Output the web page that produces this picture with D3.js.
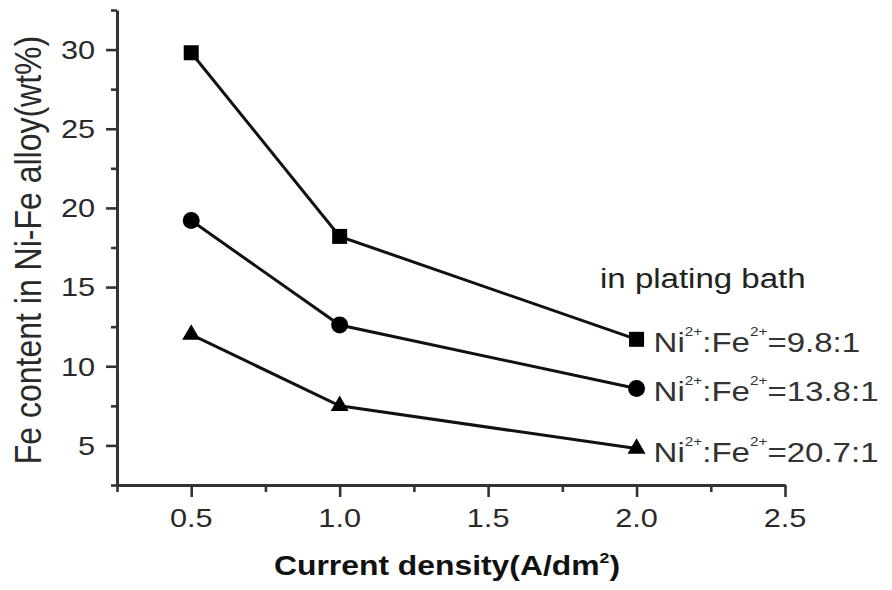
<!DOCTYPE html>
<html>
<head>
<meta charset="utf-8">
<script src="https://cdn.jsdelivr.net/npm/d3@7"></script>
<style>
  html, body { margin: 0; padding: 0; background: #fff; }
  svg { display: block; font-family: "Liberation Sans", Arial, sans-serif; }
</style>
</head>
<body>
<svg id="chart" width="892" height="590"></svg>
<script>
// Current density (A/dm^2) at which each alloy was deposited
const currentDensity = [0.5, 1.0, 2.0];
// Fe content in the Ni-Fe alloy (wt%) for each Ni2+:Fe2+ bath ratio
const feRatio98 = [29.8, 18.2, 11.7];
const feRatio138 = [19.2, 12.6, 8.6];
const feRatio207 = [12.0, 7.5, 4.8];
const seriesRatios = ["9.8:1", "13.8:1", "20.7:1"];
const seriesSymbols = [d3.symbolSquare, d3.symbolCircle, d3.symbolTriangle];
const seriesSizes = [225, 227, 140];

const xTicks = [0.5, 1.0, 1.5, 2.0, 2.5];
const xMinorTicks = [0.25, 0.75, 1.25, 1.75, 2.25];
const yTicks = [5, 10, 15, 20, 25, 30];
const yMinorTicks = [2.5, 7.5, 12.5, 17.5, 22.5, 27.5, 32.5];

const series = [feRatio98, feRatio138, feRatio207].map((vals, i) => ({
  ratio: seriesRatios[i],
  symbol: seriesSymbols[i],
  size: seriesSizes[i],
  points: currentDensity.map((x, j) => ({ x, y: vals[j] }))
}));

const svg = d3.select("#chart");
const SX = 1.18; // horizontal stretch of the lettering
const axisColor = "#333";
const textColor = "#2a2a2a";

const x = d3.scaleLinear().domain([0.25, 2.5]).range([117, 785]);
const y = d3.scaleLinear().domain([2.5, 32.5]).range([485, 10]);

// stretched text helper
function label(parent, px, py, opts = {}) {
  const g = parent.append("g")
    .attr("transform", `translate(${px},${py}) scale(${SX},1)` + (opts.rotate ? ` rotate(${opts.rotate})` : ""));
  const t = g.append("text")
    .attr("text-anchor", opts.anchor || "start")
    .attr("font-size", opts.size || 26)
    .attr("font-weight", opts.weight || "normal")
    .attr("fill", opts.fill || textColor);
  if (opts.dy) t.attr("dy", opts.dy);
  return t;
}

// ---- axes ----
const axes = svg.append("g");

// x axis: major + minor ticks
const xAxisG = axes.append("g").attr("transform", `translate(0,${y(2.5)})`);
xAxisG.call(d3.axisBottom(x).tickValues(xTicks).tickSize(12).tickSizeOuter(0).tickFormat(() => ""));
xAxisG.append("g").call(d3.axisBottom(x).tickValues(xMinorTicks).tickSize(7).tickSizeOuter(0).tickFormat(() => ""))
  .select(".domain").remove();

// y axis: major + minor ticks
const yAxisG = axes.append("g").attr("transform", `translate(${x(0.25)},0)`);
yAxisG.call(d3.axisLeft(y).tickValues(yTicks).tickSize(11).tickSizeOuter(0).tickFormat(() => ""));
yAxisG.append("g").call(d3.axisLeft(y).tickValues(yMinorTicks).tickSize(6).tickSizeOuter(0).tickFormat(() => ""))
  .select(".domain").remove();

axes.selectAll(".domain").attr("stroke", axisColor).attr("stroke-width", 3);
axes.selectAll(".tick line").attr("stroke", axisColor).attr("stroke-width", 2.6);

// tick labels
xTicks.forEach(v => {
  label(svg, x(v), 527, { anchor: "middle", size: 26 }).text(d3.format(".1f")(v));
});
yTicks.forEach(v => {
  label(svg, 95, y(v), { anchor: "end", size: 26, dy: "0.36em" }).text(String(v));
});

// axis titles
const xt = label(svg, 447, 575, { anchor: "middle", size: 27, weight: "bold", fill: "#111" });
xt.append("tspan").text("Current density(A/dm");
xt.append("tspan").attr("font-size", 15).attr("dy", -12).text("2");
xt.append("tspan").attr("dy", 12).text(")");

label(svg, 41, 250, { anchor: "middle", size: 32, rotate: -90 })
  .text("Fe content in Ni-Fe alloy(wt%)");

// ---- series ----
const line = d3.line().x(d => x(d.x)).y(d => y(d.y));
const plot = svg.append("g");

series.forEach(s => {
  plot.append("path")
    .datum(s.points)
    .attr("d", line)
    .attr("fill", "none")
    .attr("stroke", "#111")
    .attr("stroke-width", 3);

  plot.selectAll(null)
    .data(s.points)
    .join("path")
    .attr("transform", d => `translate(${x(d.x)},${y(d.y)})`)
    .attr("d", d3.symbol(s.symbol, s.size))
    .attr("fill", "#000");

  // ratio label next to the last point
  const last = s.points[s.points.length - 1];
  const t = label(svg, x(last.x) + 17, y(last.y) + 13, { size: 28, fill: "#333" });
  t.append("tspan").text("Ni");
  t.append("tspan").attr("font-size", 13).attr("dy", -16).text("2+");
  t.append("tspan").attr("dy", 16).text(":Fe");
  t.append("tspan").attr("font-size", 13).attr("dy", -16).text("2+");
  t.append("tspan").attr("dy", 16).text("=" + s.ratio);
});

label(svg, 600, 288, { size: 28, fill: "#222" }).text("in plating bath");
</script>
</body>
</html>
